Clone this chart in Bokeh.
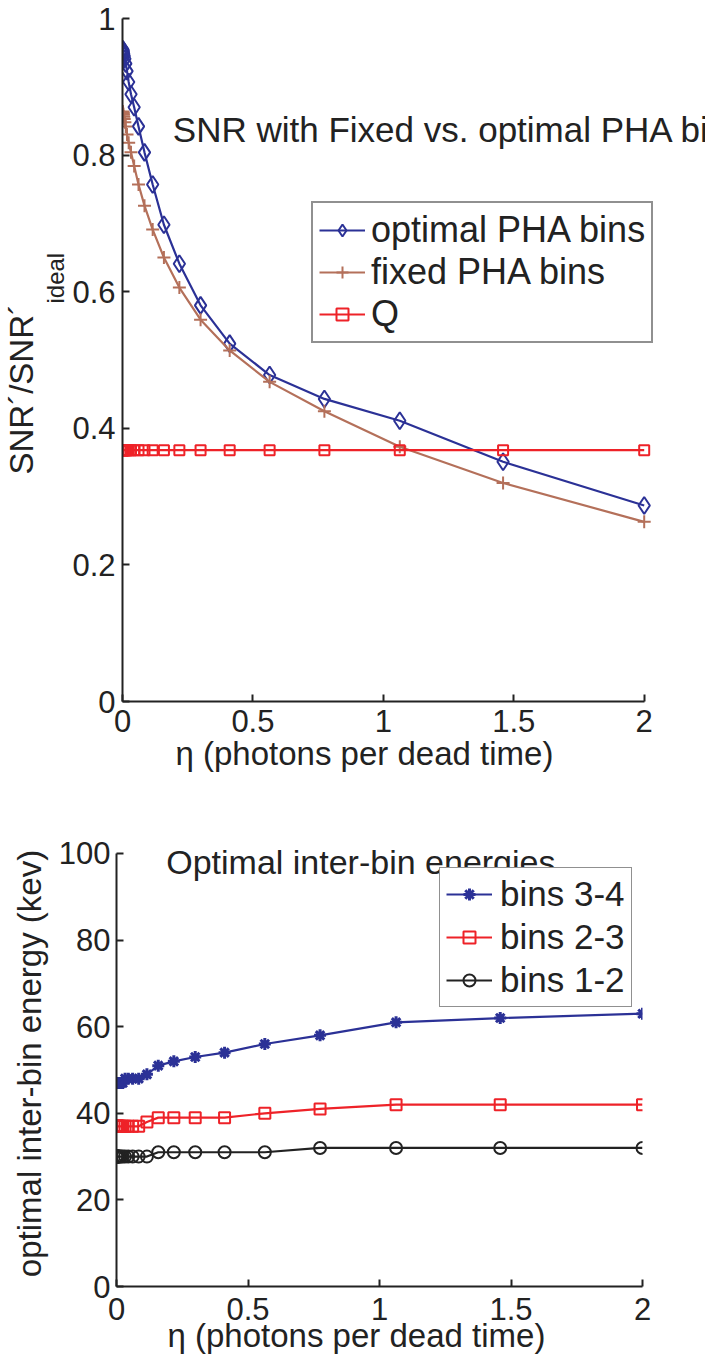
from bokeh.plotting import figure
from bokeh.models import Label, Legend, LegendItem, Range1d, FixedTicker, Title
from bokeh.embed import file_html
from bokeh.resources import INLINE

# ---------------- data ----------------
eta = [0.001, 0.00137, 0.00188, 0.00259, 0.00355, 0.00487, 0.00669, 0.00918,
       0.0126, 0.0173, 0.0237, 0.0326, 0.0447, 0.0614, 0.0843, 0.1157, 0.1588,
       0.218, 0.2993, 0.4109, 0.564, 0.774, 1.063, 1.459, 2.0]

snr_optimal = [0.955, 0.954, 0.953, 0.952, 0.950, 0.948, 0.945, 0.941, 0.934,
               0.923, 0.907, 0.889, 0.870, 0.842, 0.804, 0.757, 0.698, 0.641,
               0.580, 0.524, 0.478, 0.443, 0.411, 0.351, 0.287]
snr_fixed = [0.864, 0.863, 0.862, 0.861, 0.859, 0.856, 0.853, 0.848, 0.842,
             0.830, 0.818, 0.804, 0.784, 0.757, 0.726, 0.691, 0.650, 0.606,
             0.559, 0.514, 0.468, 0.425, 0.373, 0.320, 0.263]
q_value = [0.368, 0.368, 0.368, 0.368, 0.368, 0.368, 0.368, 0.368, 0.368,
           0.368, 0.368, 0.368, 0.368, 0.368, 0.368, 0.368, 0.368, 0.368,
           0.368, 0.368, 0.368, 0.368, 0.368, 0.368, 0.368]

bins_34 = [47, 47, 47, 47, 47, 47, 47, 47, 47, 47, 47, 48, 48, 48, 48, 49, 51,
           52, 53, 54, 56, 58, 61, 62, 63]
bins_23 = [37, 37, 37, 37, 37, 37, 37, 37, 37, 37, 37, 37, 37, 37, 37, 38, 39,
           39, 39, 39, 40, 41, 42, 42, 42]
bins_12 = [30, 30, 30, 30, 30, 30, 30, 30, 30, 30, 30, 30, 30, 30, 30, 30, 31,
           31, 31, 31, 31, 32, 32, 32, 32]

x_ticks = [0, 0.5, 1, 1.5, 2]
x_tick_labels = ["0", "0.5", "1", "1.5", "2"]
y1_ticks = [0, 0.2, 0.4, 0.6, 0.8, 1]
y1_tick_labels = ["0", "0.2", "0.4", "0.6", "0.8", "1"]
y2_ticks = [0, 20, 40, 60, 80, 100]
y2_tick_labels = ["0", "20", "40", "60", "80", "100"]

FONT = "Liberation Sans"
BLUE = "#2b3196"
BROWN = "#b4705a"
RED = "#ee2228"
BLACK = "#222222"
W = 705


def style(p, xt, xl, yt, yl):
    p.outline_line_color = None
    p.xgrid.visible = False
    p.ygrid.visible = False
    for ax in (p.xaxis[0], p.yaxis[0]):
        ax.axis_line_width = 2
        ax.axis_line_color = BLACK
        ax.major_tick_line_width = 2
        ax.major_tick_line_color = BLACK
        ax.major_tick_in = 7
        ax.major_tick_out = 0
        ax.minor_tick_line_color = None
        ax.major_label_text_font = FONT
        ax.major_label_text_font_size = "31px"
        ax.major_label_text_color = BLACK
        ax.axis_label_text_font = FONT
        ax.axis_label_text_font_size = "33px"
        ax.axis_label_text_font_style = "normal"
        ax.axis_label_text_color = BLACK
    p.xaxis.ticker = FixedTicker(ticks=xt)
    p.xaxis.major_label_overrides = {float(t): s for t, s in zip(xt, xl)}
    p.xaxis.bounds = (0, 2)
    p.yaxis.ticker = FixedTicker(ticks=yt)
    p.yaxis.major_label_overrides = {float(t): s for t, s in zip(yt, yl)}
    p.yaxis.major_label_standoff = 7


def xlabel(p, offset, standoff):
    p.add_layout(Title(text="η (photons per dead time)", align="left",
                       offset=offset, standoff=standoff, text_font=FONT,
                       text_font_size="33px", text_color=BLACK,
                       text_font_style="normal"), "below")


# ---------------- top figure ----------------
# frame: left 123, x=2 at 651, frame right = canvas right (713), top 26, bottom 709
p1 = figure(width=W, height=783, output_backend="svg", toolbar_location=None,
            x_range=Range1d(0, 2.235), y_range=Range1d(0, 1),
            min_border_left=115, min_border_right=0, min_border_top=18,
            min_border_bottom=82, background_fill_color="white",
            border_fill_color="white")
style(p1, x_ticks, x_tick_labels, y1_ticks, y1_tick_labels)
p1.xaxis.major_label_standoff = 8

l_opt = p1.line(eta, snr_optimal, line_color=BLUE, line_width=2.2)
m_opt = p1.scatter(eta, snr_optimal, marker="diamond", size=17, line_color=BLUE,
                   fill_color=None, line_width=2)
l_fix = p1.line(eta, snr_fixed, line_color=BROWN, line_width=2.2)
m_fix = p1.scatter(eta, snr_fixed, marker="cross", size=13, line_color=BROWN,
                   line_width=2)
l_q = p1.line(eta, q_value, line_color=RED, line_width=2.2)
m_q = p1.scatter(eta, q_value, marker="square", size=10, line_color=RED,
                 fill_color=None, line_width=2)

p1.add_layout(Label(x=0.193, y=0.838, text="SNR with Fixed vs. optimal PHA bins",
                    text_font=FONT, text_font_size="35px", text_color=BLACK,
                    text_baseline="middle", text_align="left"))

xlabel(p1, 53, -3)

# y-axis label with subscript (stacked outward from the axis)
p1.add_layout(Title(text="ideal", align="left", offset=398, standoff=1,
                    text_font=FONT, text_font_size="24px", text_color=BLACK,
                    text_font_style="normal"), "left")
p1.add_layout(Title(text="SNR´/SNR´", align="left", offset=227, standoff=0,
                    text_font=FONT, text_font_size="33px", text_color=BLACK,
                    text_font_style="normal"), "left")

leg1 = Legend(items=[
    LegendItem(label="optimal PHA bins", renderers=[l_opt, m_opt]),
    LegendItem(label="fixed PHA bins", renderers=[l_fix, m_fix]),
    LegendItem(label="Q", renderers=[l_q, m_q]),
], location=(189, 358), label_text_font=FONT, label_text_font_size="36px",
    label_text_color=BLACK, glyph_width=46, glyph_height=30, label_standoff=6,
    spacing=0, padding=6, margin=0, border_line_color=BLACK, border_line_width=2,
    background_fill_color="white", background_fill_alpha=1.0)
p1.add_layout(leg1)

# ---------------- bottom figure ----------------
# frame: left 124, right 650, y=100 at 861, y=0 at 1294 (page px); canvas starts at 791
p2 = figure(width=W, height=573, output_backend="svg", toolbar_location=None,
            x_range=Range1d(0, 2), y_range=Range1d(0, 103),
            min_border_left=116, min_border_right=63, min_border_top=57,
            min_border_bottom=70, background_fill_color="white",
            border_fill_color="white")
style(p2, x_ticks, x_tick_labels, y2_ticks, y2_tick_labels)
p2.yaxis.bounds = (0, 100)
p2.xaxis.major_label_standoff = 11
p2.yaxis.axis_label = "optimal inter-bin energy (kev)"
p2.yaxis.axis_label_standoff = 8
p2.yaxis.major_label_standoff = 6

xlabel(p2, 51, -16)

l34 = p2.line(eta, bins_34, line_color=BLUE, line_width=2.2)
m34 = p2.scatter(eta, bins_34, marker="asterisk", size=12, line_color=BLUE,
                 line_width=3)
l23 = p2.line(eta, bins_23, line_color=RED, line_width=2.2)
m23 = p2.scatter(eta, bins_23, marker="square", size=11, line_color=RED,
                 fill_color=None, line_width=2)
l12 = p2.line(eta, bins_12, line_color=BLACK, line_width=2.2)
m12 = p2.scatter(eta, bins_12, marker="circle", size=12, line_color=BLACK,
                 fill_color=None, line_width=2)

p2.add_layout(Label(x=0.189, y=98.0, text="Optimal inter-bin energies",
                    text_font=FONT, text_font_size="34px", text_color=BLACK,
                    text_baseline="middle", text_align="left"))

leg2 = Legend(items=[
    LegendItem(label="bins 3-4", renderers=[l34, m34]),
    LegendItem(label="bins 2-3", renderers=[l23, m23]),
    LegendItem(label="bins 1-2", renderers=[l12, m12]),
], location=(323, 279), label_text_font=FONT, label_text_font_size="35px",
    label_text_color=BLACK, glyph_width=46, glyph_height=30, label_standoff=8,
    spacing=3, padding=6, margin=0, border_line_color=BLACK, border_line_width=1.5,
    background_fill_color="white", background_fill_alpha=1.0)
p2.add_layout(leg2)

open("out.html", "w").write(file_html([p1, p2], INLINE))
